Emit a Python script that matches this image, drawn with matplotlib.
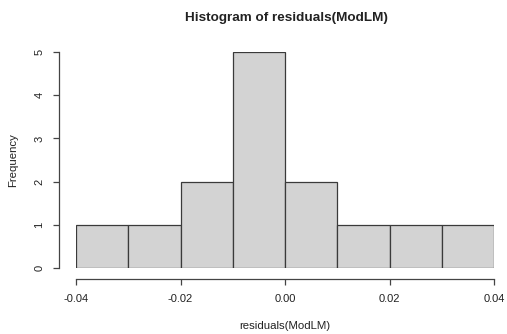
import matplotlib
matplotlib.use("Agg")
import matplotlib.pyplot as plt
import numpy as np

# histogram of residuals, bins of width 0.01
bin_edges = [-0.04, -0.03, -0.02, -0.01, 0.00, 0.01, 0.02, 0.03, 0.04]
counts = [1, 1, 2, 5, 2, 1, 1, 1]
x_ticks = [-0.04, -0.02, 0.00, 0.02, 0.04]
x_tick_labels = ["-0.04", "-0.02", "0.00", "0.02", "0.04"]
y_ticks = [0, 1, 2, 3, 4, 5]

W, H = 507, 334
plt.rcParams["font.family"] = ["Liberation Sans", "DejaVu Sans"]

fig = plt.figure(figsize=(W / 100, H / 100), dpi=100)
ax = fig.add_axes([76 / W, (H - 268) / H, 418 / W, 216 / H])

edges = np.array(bin_edges)
ax.bar(edges[:-1], counts, width=np.diff(edges), align="edge",
       color="#d3d3d3", edgecolor="#3a3a3a", linewidth=0.9)

ax.set_xlim(-0.04, 0.04)
ax.set_ylim(0, 5)

for s in ["top", "right"]:
    ax.spines[s].set_visible(False)
ax.spines["left"].set_position(("outward", 17 * 0.72))
ax.spines["bottom"].set_position(("outward", 11 * 0.72))
ax.spines["left"].set_bounds(0, 5)
ax.spines["bottom"].set_bounds(-0.04, 0.04)
for s in ["left", "bottom"]:
    ax.spines[s].set_color("#444444")
    ax.spines[s].set_linewidth(0.9)

ax.set_xticks(x_ticks)
ax.set_xticklabels(x_tick_labels)
ax.set_yticks(y_ticks)
ax.tick_params(axis="both", colors="#444444", labelcolor="#222222",
               labelsize=8, length=4.5, width=0.9)
ax.tick_params(axis="x", pad=6)
ax.tick_params(axis="y", pad=6)
for lbl in ax.get_yticklabels():
    lbl.set_rotation(90)
    lbl.set_va("center")

fig.text(286 / W, 1 - 18 / H, "Histogram of residuals(ModLM)", ha="center",
         va="center", fontsize=9.7, fontweight="bold", color="#222222")
fig.text(285 / W, 1 - 326 / H, "residuals(ModLM)", ha="center", va="center",
         fontsize=8.2, color="#222222")
fig.text(13 / W, 1 - 160 / H, "Frequency", ha="center", va="center",
         rotation=90, fontsize=8.2, color="#222222")

fig.savefig("out.png", dpi=100)
